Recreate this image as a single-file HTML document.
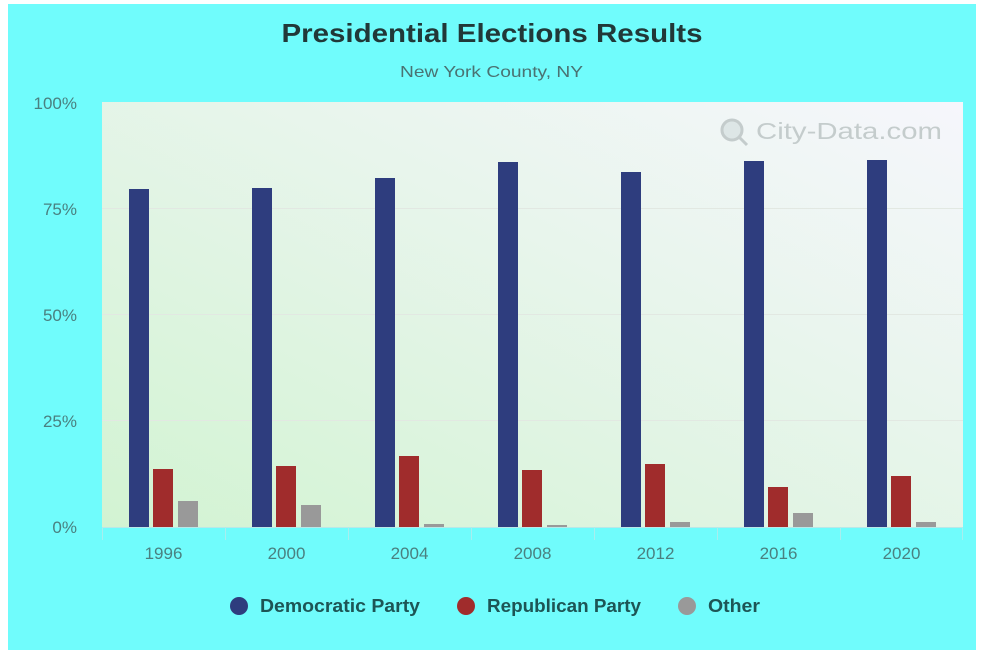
<!DOCTYPE html>
<html><head><style>html,body{margin:0;padding:0;background:#fff;}svg{display:block}</style></head>
<body>
<svg width="981" height="653" xmlns="http://www.w3.org/2000/svg" font-family="Liberation Sans, Arial, sans-serif">
<defs>
<linearGradient id="bg" x1="0" y1="1" x2="1" y2="0">
<stop offset="0" stop-color="#d2f3d2"/>
<stop offset="0.6" stop-color="#e8f5ec"/>
<stop offset="1" stop-color="#f6f6fc"/>
</linearGradient>
</defs>
<rect x="8" y="4" width="968" height="646" fill="#70fcfc"/>
<rect x="102" y="102" width="861" height="425" fill="url(#bg)"/>
<g stroke="#e2e8e2" stroke-width="1">
<line x1="102" y1="208.5" x2="963" y2="208.5"/>
<line x1="102" y1="314.5" x2="963" y2="314.5"/>
<line x1="102" y1="420.5" x2="963" y2="420.5"/>
</g>
<line x1="102" y1="527.5" x2="963" y2="527.5" stroke="#b8e8e8"/>
<g stroke="#a8eeee">
<line x1="102.5" y1="527" x2="102.5" y2="540"/><line x1="225.5" y1="527" x2="225.5" y2="540"/><line x1="348.5" y1="527" x2="348.5" y2="540"/><line x1="471.5" y1="527" x2="471.5" y2="540"/><line x1="594.5" y1="527" x2="594.5" y2="540"/><line x1="717.5" y1="527" x2="717.5" y2="540"/><line x1="840.5" y1="527" x2="840.5" y2="540"/><line x1="962.5" y1="527" x2="962.5" y2="540"/>
</g>
<text x="492" y="42" text-anchor="middle" font-size="26" font-weight="bold" fill="#213838" textLength="421" lengthAdjust="spacingAndGlyphs">Presidential Elections Results</text>
<text x="400" y="77" font-size="16" fill="#4a7272" textLength="183" lengthAdjust="spacingAndGlyphs">New York County, NY</text>
<g font-size="17" fill="#4a8080" text-anchor="end">
<text x="77" y="109">100%</text><text x="77" y="215">75%</text><text x="77" y="321">50%</text><text x="77" y="427">25%</text><text x="77" y="533">0%</text>
</g>
<text x="756" y="139" font-size="23" fill="#c4cccc" textLength="186" lengthAdjust="spacingAndGlyphs">City-Data.com</text>
<circle cx="732" cy="130" r="10" fill="#dde6e6" stroke="#c4cccc" stroke-width="3"/>
<line x1="739" y1="137" x2="747" y2="145" stroke="#c4cccc" stroke-width="3"/>
<g>
<rect x="129" y="189" width="20" height="338" fill="#2e3d7e"/><rect x="153" y="469" width="20" height="58" fill="#a02c2c"/><rect x="178" y="501" width="20" height="26" fill="#999"/>
<rect x="252" y="188" width="20" height="339" fill="#2e3d7e"/><rect x="276" y="466" width="20" height="61" fill="#a02c2c"/><rect x="301" y="505" width="20" height="22" fill="#999"/>
<rect x="375" y="178" width="20" height="349" fill="#2e3d7e"/><rect x="399" y="456" width="20" height="71" fill="#a02c2c"/><rect x="424" y="524" width="20" height="3" fill="#999"/>
<rect x="498" y="162" width="20" height="365" fill="#2e3d7e"/><rect x="522" y="470" width="20" height="57" fill="#a02c2c"/><rect x="547" y="525" width="20" height="2" fill="#999"/>
<rect x="621" y="172" width="20" height="355" fill="#2e3d7e"/><rect x="645" y="464" width="20" height="63" fill="#a02c2c"/><rect x="670" y="522" width="20" height="5" fill="#999"/>
<rect x="744" y="161" width="20" height="366" fill="#2e3d7e"/><rect x="768" y="487" width="20" height="40" fill="#a02c2c"/><rect x="793" y="513" width="20" height="14" fill="#999"/>
<rect x="867" y="160" width="20" height="367" fill="#2e3d7e"/><rect x="891" y="476" width="20" height="51" fill="#a02c2c"/><rect x="916" y="522" width="20" height="5" fill="#999"/>
</g>
<g font-size="17" fill="#4a8080" text-anchor="middle">
<text x="163.5" y="559">1996</text><text x="286.5" y="559">2000</text><text x="409.5" y="559">2004</text><text x="532.5" y="559">2008</text><text x="655.5" y="559">2012</text><text x="778.5" y="559">2016</text><text x="901.5" y="559">2020</text>
</g>
<g font-size="18" font-weight="bold" fill="#1d5555">
<circle cx="239" cy="606" r="9" fill="#2e3d7e"/><text x="260" y="612" textLength="160" lengthAdjust="spacingAndGlyphs">Democratic Party</text>
<circle cx="466" cy="606" r="9" fill="#a02c2c"/><text x="487" y="612" textLength="154" lengthAdjust="spacingAndGlyphs">Republican Party</text>
<circle cx="687" cy="606" r="9" fill="#999"/><text x="708" y="612" textLength="52" lengthAdjust="spacingAndGlyphs">Other</text>
</g>
</svg>
</body></html>
